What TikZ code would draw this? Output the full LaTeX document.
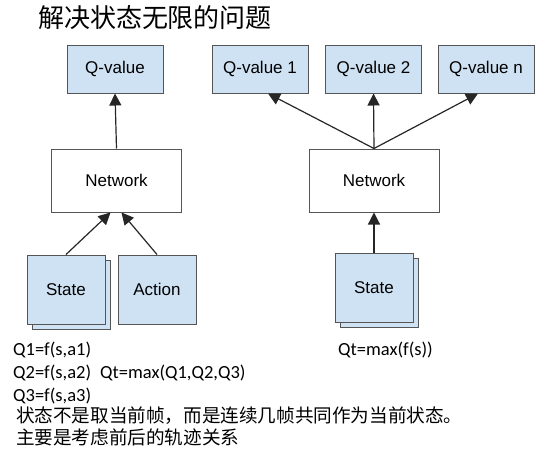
\documentclass[tikz,border=0pt]{standalone}
\usepackage{fontspec}
\setmainfont{Liberation Sans}
\newfontfamily\cjk{Noto Sans CJK SC}
\newfontfamily\calib{Carlito}
\usetikzlibrary{arrows.meta,shadows}

\definecolor{qblue}{HTML}{CFE2F3}
\definecolor{boxline}{HTML}{555555}

\begin{document}
\begin{tikzpicture}[x=1pt,y=-1pt,
		qbox/.style={draw=boxline,fill=qblue,line width=1pt,inner sep=0pt,minimum width=96pt,minimum height=48pt,font=\fontsize{17}{20}\selectfont},
		netbox/.style={draw=boxline,fill=white,line width=1pt,inner sep=0pt,minimum width=130pt,minimum height=63pt,font=\fontsize{17}{20}\selectfont},
		inbox/.style={qbox,minimum width=78pt,minimum height=69pt},
		stack/.style={inbox,copy shadow={shadow xshift=5pt,shadow yshift=-5pt,fill=qblue,draw=boxline,line width=1pt}},
		arr/.style={line width=1.2pt,draw=black!85,arrows={-Triangle[length=12pt,width=12pt,scale=1]}},
		formula/.style={anchor=west,inner sep=0pt,font=\calib\fontsize{18.5}{20}\selectfont},
		note/.style={anchor=west,inner sep=0pt,font=\cjk\fontsize{18.6}{20}\selectfont}]
		\useasboundingbox (0,0) rectangle (539,459);
		\node[inner sep=0pt,font=\cjk\fontsize{26}{28}\selectfont] (title) at (155,18) {解决状态无限的问题};
		% left net
		\node[qbox] (qv) at (115,69) {Q-value};
		\node[netbox] (netl) at (116.5,180.5) {Network};
		\node[stack] (statel) at (66,289.5) {State};
		\node[inbox] (action) at (157,289.5) {Action};
		\draw[arr] (netl.north) -- (qv.south);
		\draw[arr] (statel.north) -- ([xshift=-6pt]netl.south);
		\draw[arr] (action.north) -- ([xshift=5pt]netl.south);
		% right net
		\node[qbox] (qa) at (260,69) {Q-value 1};
		\node[qbox] (qb) at (373.5,69) {Q-value 2};
		\node[qbox] (qn) at (486,69) {Q-value n};
		\node[netbox] (netr) at (374,180.5) {Network};
		\node[stack] (stater) at (374,287.5) {State};
		\draw[arr] (netr.north) -- ([xshift=8pt]qa.south);
		\draw[arr] (netr.north) -- (qb.south);
		\draw[arr] (netr.north) -- ([xshift=-8pt]qn.south);
		\draw[arr] (stater.north) -- (netr.south);
		% formulas
		\node[formula] (f1) at (13,350) {Q1=f(s,a1)};
		\node[formula] (f2) at (13,373) {Q2=f(s,a2)};
		\node[formula] (f3) at (13,396) {Q3=f(s,a3)};
		\node[formula] (fmax) at (100,373) {Qt=max(Q1,Q2,Q3)};
		\node[formula] (fr) at (338,350) {Qt=max(f(s))};
		\node[note] (n1) at (16,416) {状态不是取当前帧，而是连续几帧共同作为当前状态。};
		\node[note] (n2) at (16,437.5) {主要是考虑前后的轨迹关系};
	\end{tikzpicture}
\end{document}
